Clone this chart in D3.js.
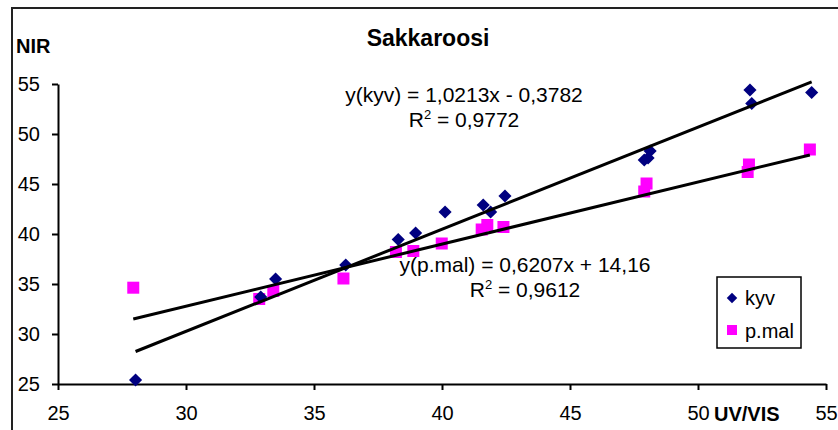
<!DOCTYPE html>
<html>
<head>
<meta charset="utf-8">
<script src="https://cdn.jsdelivr.net/npm/d3@7"></script>
<style>
  body { margin: 0; background: #fff; }
  text { font-family: 'Liberation Sans', Arial, sans-serif; }
</style>
</head>
<body>
<div id="chart"></div>
<script>
// data
const kyvX = [28.03, 32.92, 33.5, 36.24, 38.29, 38.97, 40.12, 41.61, 41.9, 42.46, 47.9, 48.05, 48.13, 52.03, 52.1, 54.44]
const kyvY = [25.4, 33.7, 35.5, 36.9, 39.45, 40.1, 42.2, 42.9, 42.2, 43.8, 47.4, 47.6, 48.3, 54.4, 53.05, 54.15]
const pmalX = [27.94, 32.86, 33.41, 36.15, 38.2, 38.88, 39.99, 41.55, 41.77, 42.4, 47.9, 47.99, 51.94, 51.99, 54.37]
const pmalY = [34.63, 33.5, 34.3, 35.55, 38.2, 38.3, 39.05, 40.45, 40.9, 40.7, 44.25, 45.05, 46.2, 46.95, 48.45]

// trend line coefficients printed on the chart
const kyvTrend = { slope: 1.0213, intercept: -0.3782 }
const pmalTrend = { slope: 0.6207, intercept: 14.16 }

const xTicks = [25, 30, 35, 40, 45, 50, 55]
const yTicks = [25, 30, 35, 40, 45, 50, 55]

const width = 838
const height = 430

const svg = d3
  .select('#chart')
  .append('svg')
  .attr('width', width)
  .attr('height', height)

// outer chart frame (runs off the right and bottom edges)
svg
  .append('rect')
  .attr('x', 12)
  .attr('y', 8)
  .attr('width', 840)
  .attr('height', 440)
  .attr('fill', 'none')
  .attr('stroke', '#222')
  .attr('stroke-width', 2)

const xPositionScale = d3.scaleLinear().domain([25, 55]).range([58, 826])
const yPositionScale = d3.scaleLinear().domain([25, 55]).range([384, 84])

const yAxis = d3
  .axisLeft(yPositionScale)
  .tickValues(yTicks)
  .tickSize(6)
  .tickSizeOuter(0)
  .tickPadding(12)
svg
  .append('g')
  .attr('class', 'axis y-axis')
  .attr('transform', 'translate(58,0)')
  .call(yAxis)

const xAxis = d3
  .axisBottom(xPositionScale)
  .tickValues(xTicks)
  .tickSize(6)
  .tickSizeOuter(0)
  .tickPadding(16)
svg
  .append('g')
  .attr('class', 'axis x-axis')
  .attr('transform', 'translate(0,384)')
  .call(xAxis)

svg.selectAll('.axis path, .axis line').attr('stroke', '#000').attr('stroke-width', 2)
svg
  .selectAll('.axis text')
  .attr('font-size', 20)
  .attr('fill', '#000')
  .style('font-family', "'Liberation Sans', Arial, sans-serif")

// p.mal squares
svg
  .selectAll('.pmal')
  .data(pmalX.map((x, i) => ({ x: x, y: pmalY[i] })))
  .enter()
  .append('rect')
  .attr('class', 'pmal')
  .attr('x', d => xPositionScale(d.x) - 6)
  .attr('y', d => yPositionScale(d.y) - 6)
  .attr('width', 12)
  .attr('height', 12)
  .attr('fill', '#ff00ff')

// kyv diamonds
const diamond = d3.symbol().type(d3.symbolDiamond2).size(110)
svg
  .selectAll('.kyv')
  .data(kyvX.map((x, i) => ({ x: x, y: kyvY[i] })))
  .enter()
  .append('path')
  .attr('class', 'kyv')
  .attr('d', diamond)
  .attr('transform', d => 'translate(' + xPositionScale(d.x) + ',' + yPositionScale(d.y) + ')')
  .attr('fill', '#000080')

// trend lines, drawn on top of the markers like excel does
const trends = [
  { t: kyvTrend, xs: kyvX },
  { t: pmalTrend, xs: pmalX }
]
trends.forEach(function(d) {
  const x0 = d3.min(d.xs)
  const x1 = d3.max(d.xs)
  svg
    .append('line')
    .attr('class', 'trend')
    .attr('x1', xPositionScale(x0))
    .attr('y1', yPositionScale(d.t.slope * x0 + d.t.intercept))
    .attr('x2', xPositionScale(x1))
    .attr('y2', yPositionScale(d.t.slope * x1 + d.t.intercept))
    .attr('stroke', '#000')
    .attr('stroke-width', 3)
})

// titles
svg
  .append('text')
  .text('Sakkaroosi')
  .attr('x', 428)
  .attr('y', 46)
  .attr('text-anchor', 'middle')
  .attr('font-size', 23)
  .attr('font-weight', 'bold')

svg
  .append('text')
  .text('NIR')
  .attr('x', 16)
  .attr('y', 53)
  .attr('font-size', 20)
  .attr('font-weight', 'bold')

svg
  .append('text')
  .text('UV/VIS')
  .attr('x', 714)
  .attr('y', 421)
  .attr('font-size', 20)
  .attr('font-weight', 'bold')

// equation labels
function eqLabel(cx, y, line1, r2) {
  svg
    .append('text')
    .text(line1)
    .attr('x', cx)
    .attr('y', y)
    .attr('text-anchor', 'middle')
    .attr('font-size', 21)
  const t = svg
    .append('text')
    .attr('x', cx)
    .attr('y', y + 25)
    .attr('text-anchor', 'middle')
    .attr('font-size', 21)
  t.append('tspan').text('R')
  t.append('tspan').text('2').attr('font-size', 13).attr('dy', -8)
  t.append('tspan').text(' = ' + r2).attr('dy', 8)
}
eqLabel(464, 102, 'y(kyv) = 1,0213x - 0,3782', '0,9772')
eqLabel(525, 272, 'y(p.mal) = 0,6207x + 14,16', '0,9612')

// legend
const legend = svg.append('g').attr('transform', 'translate(717,277)')
legend
  .append('rect')
  .attr('width', 84)
  .attr('height', 71)
  .attr('fill', '#fff')
  .attr('stroke', '#000')
  .attr('stroke-width', 1.5)
legend
  .append('path')
  .attr('d', d3.symbol().type(d3.symbolDiamond2).size(70))
  .attr('transform', 'translate(15,21)')
  .attr('fill', '#000080')
legend
  .append('rect')
  .attr('x', 10)
  .attr('y', 48)
  .attr('width', 10)
  .attr('height', 10)
  .attr('fill', '#ff00ff')
legend
  .append('text')
  .text('kyv')
  .attr('x', 28)
  .attr('y', 28)
  .attr('font-size', 20)
legend
  .append('text')
  .text('p.mal')
  .attr('x', 28)
  .attr('y', 61)
  .attr('font-size', 20)
</script>
</body>
</html>
